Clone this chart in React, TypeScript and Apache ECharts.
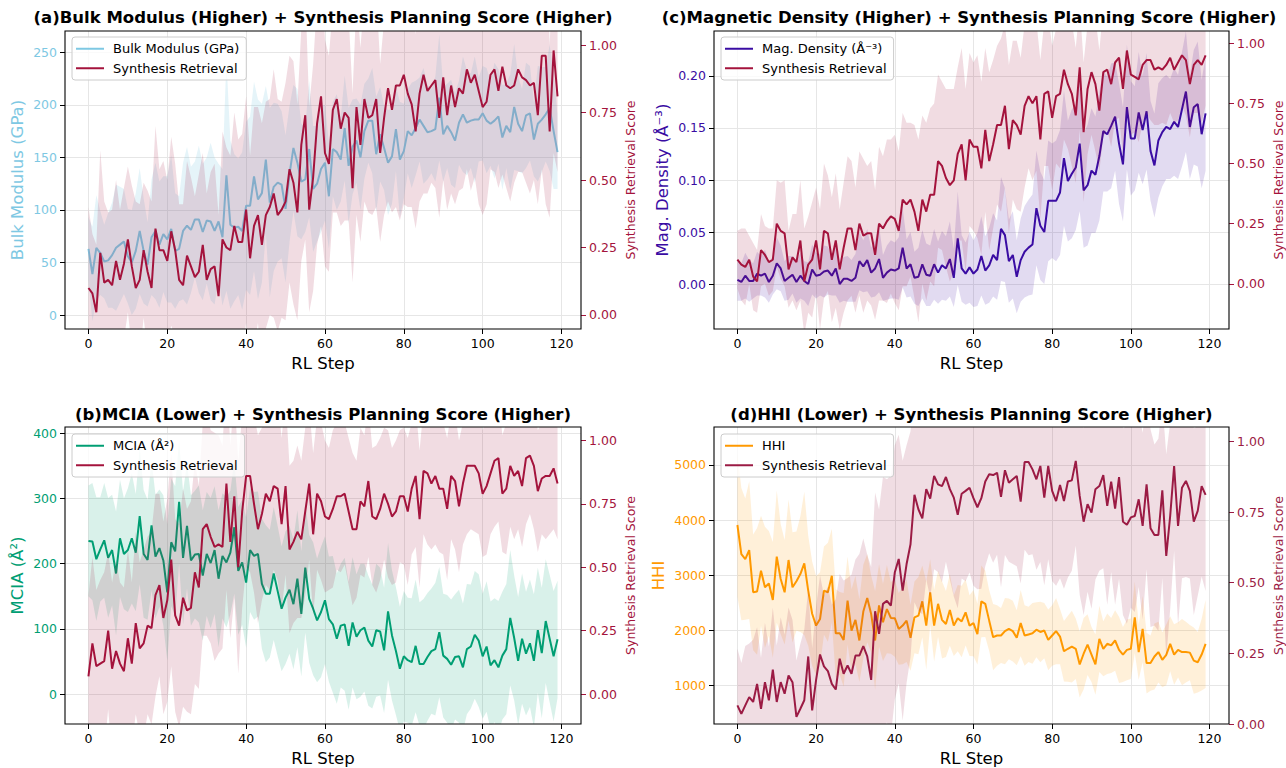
import React, { useEffect, useRef } from 'react';
import * as echarts from 'echarts';

const FONT = "'DejaVu Sans', sans-serif";

// RL steps 0..119
const steps = [...Array(120).keys()];
const xTicks = [0, 20, 40, 60, 80, 100, 120];
const scoreTicks = [0, 0.25, 0.5, 0.75, 1.0];
const bulkTicks = [0, 50, 100, 150, 200, 250];
const mciaTicks = [0, 100, 200, 300, 400];
const magTicks = [0, 0.05, 0.1, 0.15, 0.2];
const hhiTicks = [1000, 2000, 3000, 4000, 5000];

// (a) Bulk modulus
const bulk = [63, 39, 64, 59, 51, 52, 57, 64, 67, 70,
  56, 50, 61, 80, 61, 48, 74, 80, 67, 77,
  72, 82, 61, 63, 80, 85, 81, 91, 91, 79,
  90, 89, 80, 89, 74, 133, 86, 83, 84, 80,
  104, 104, 132, 110, 116, 148, 107, 122, 126, 124,
  101, 134, 159, 145, 127, 129, 158, 120, 125, 139,
  145, 113, 158, 155, 148, 178, 142, 160, 166, 150,
  175, 185, 185, 153, 172, 159, 145, 151, 177, 148,
  156, 175, 171, 178, 186, 180, 174, 175, 177, 207,
  172, 180, 174, 166, 183, 191, 183, 185, 186, 186,
  192, 185, 182, 185, 189, 169, 180, 174, 198, 182,
  175, 190, 192, 167, 182, 186, 191, 197, 175, 155];
const bulkSpread = [30, 45, 50, 40, 35, 45, 50, 60, 55, 50,
  45, 50, 55, 60, 50, 40, 55, 65, 60, 55,
  60, 70, 55, 50, 65, 75, 60, 55, 70, 65,
  60, 75, 70, 55, 65, 110, 80, 70, 65, 75,
  80, 85, 90, 95, 85, 70, 90, 80, 75, 70,
  70, 65, 60, 70, 55, 50, 65, 60, 55, 60,
  55, 50, 45, 55, 40, 50, 55, 45, 40, 50,
  45, 40, 50, 55, 45, 40, 50, 45, 40, 55,
  45, 40, 50, 45, 40, 55, 45, 40, 50, 60,
  45, 40, 50, 45, 40, 55, 50, 45, 60, 40,
  45, 50, 40, 55, 45, 50, 40, 55, 60, 45,
  40, 50, 45, 35, 55, 50, 45, 60, 55, 35];
const bulkSyn = [0.10, 0.08, 0.01, 0.23, 0.12, 0.13, 0.11, 0.20, 0.13, 0.19,
  0.28, 0.18, 0.10, 0.13, 0.24, 0.16, 0.10, 0.32, 0.24, 0.24,
  0.20, 0.31, 0.24, 0.13, 0.11, 0.22, 0.18, 0.14, 0.16, 0.26,
  0.13, 0.17, 0.18, 0.07, 0.28, 0.25, 0.24, 0.33, 0.27, 0.27,
  0.39, 0.21, 0.33, 0.37, 0.26, 0.37, 0.40, 0.45, 0.37, 0.39,
  0.42, 0.54, 0.49, 0.38, 0.63, 0.74, 0.39, 0.51, 0.71, 0.81,
  0.60, 0.56, 0.76, 0.80, 0.69, 0.75, 0.73, 0.47, 0.77, 0.63,
  0.80, 0.73, 0.74, 0.80, 0.60, 0.73, 0.84, 0.76, 0.85, 0.85,
  0.89, 0.82, 0.78, 0.68, 0.82, 0.89, 0.83, 0.85, 0.87, 0.73,
  0.88, 0.74, 0.85, 0.77, 0.84, 0.82, 0.91, 0.86, 0.89, 0.83,
  0.77, 0.79, 0.89, 0.91, 0.83, 0.92, 0.85, 0.84, 0.85, 0.91,
  0.88, 0.87, 0.85, 0.86, 0.74, 0.96, 0.96, 0.68, 0.98, 0.81];
const bulkSynSpread = [0.30, 0.22, 0.25, 0.38, 0.30, 0.25, 0.28, 0.30, 0.26, 0.28,
  0.27, 0.30, 0.32, 0.28, 0.25, 0.30, 0.32, 0.38, 0.30, 0.33,
  0.30, 0.35, 0.32, 0.28, 0.30, 0.35, 0.33, 0.30, 0.36, 0.34,
  0.32, 0.36, 0.38, 0.30, 0.40, 0.37, 0.35, 0.42, 0.38, 0.40,
  0.42, 0.38, 0.44, 0.40, 0.45, 0.42, 0.40, 0.46, 0.43, 0.40,
  0.44, 0.42, 0.45, 0.40, 0.43, 0.46, 0.38, 0.42, 0.45, 0.48,
  0.42, 0.40, 0.38, 0.42, 0.36, 0.40, 0.38, 0.35, 0.40, 0.36,
  0.38, 0.35, 0.37, 0.40, 0.33, 0.36, 0.42, 0.38, 0.45, 0.50,
  0.48, 0.42, 0.38, 0.36, 0.40, 0.44, 0.38, 0.36, 0.40, 0.37,
  0.38, 0.35, 0.40, 0.36, 0.38, 0.35, 0.37, 0.40, 0.38, 0.42,
  0.40, 0.38, 0.35, 0.38, 0.36, 0.40, 0.38, 0.42, 0.36, 0.38,
  0.35, 0.38, 0.40, 0.36, 0.33, 0.42, 0.55, 0.32, 0.38, 0.28];

// (b) MCIA
const mcia = [235, 234, 207, 222, 236, 209, 221, 185, 239, 215,
  221, 239, 217, 273, 215, 206, 259, 211, 224, 205,
  156, 233, 219, 295, 209, 258, 205, 214, 215, 182,
  215, 201, 221, 177, 212, 202, 217, 256, 189, 202,
  171, 221, 212, 215, 169, 154, 154, 185, 158, 131,
  148, 160, 138, 177, 123, 194, 146, 131, 113, 126,
  144, 115, 107, 85, 105, 107, 74, 110, 88, 98,
  102, 82, 73, 98, 96, 67, 127, 90, 66, 39,
  58, 52, 49, 74, 46, 46, 57, 66, 69, 95,
  59, 54, 45, 57, 58, 41, 69, 73, 91, 82,
  58, 73, 44, 52, 41, 59, 69, 117, 86, 51,
  85, 62, 78, 51, 98, 63, 112, 85, 58, 84];
const mciaSpread = [85, 90, 95, 80, 88, 92, 85, 95, 90, 85,
  95, 100, 90, 105, 98, 92, 100, 95, 90, 100,
  105, 98, 100, 95, 102, 96, 100, 98, 105, 100,
  95, 100, 98, 105, 96, 100, 95, 102, 98, 96,
  100, 95, 98, 96, 100, 105, 98, 102, 100, 96,
  102, 98, 100, 105, 96, 100, 98, 102, 95, 100,
  98, 96, 105, 100, 95, 102, 98, 100, 96, 102,
  98, 100, 95, 102, 98, 96, 105, 100, 98, 95,
  100, 96, 98, 102, 95, 100, 98, 96, 102, 100,
  95, 98, 100, 96, 102, 98, 100, 95, 98, 102,
  96, 100, 98, 95, 102, 98, 100, 104, 96, 98,
  100, 95, 98, 102, 96, 100, 95, 98, 100, 90];
const mciaSyn = [0.07, 0.20, 0.11, 0.12, 0.13, 0.25, 0.10, 0.17, 0.12, 0.09,
  0.22, 0.12, 0.28, 0.18, 0.20, 0.27, 0.26, 0.39, 0.43, 0.30,
  0.37, 0.53, 0.31, 0.27, 0.38, 0.33, 0.34, 0.48, 0.42, 0.65,
  0.67, 0.62, 0.58, 0.59, 0.58, 0.83, 0.60, 0.78, 0.50, 0.72,
  0.86, 0.86, 0.75, 0.65, 0.71, 0.79, 0.76, 0.82, 0.81, 0.67,
  0.82, 0.57, 0.60, 0.64, 0.61, 0.72, 0.83, 0.63, 0.79, 0.76,
  0.70, 0.69, 0.73, 0.78, 0.78, 0.79, 0.72, 0.65, 0.65, 0.76,
  0.74, 0.84, 0.70, 0.69, 0.73, 0.79, 0.75, 0.70, 0.72, 0.78,
  0.78, 0.72, 0.81, 0.86, 0.69, 0.88, 0.87, 0.83, 0.86, 0.81,
  0.81, 0.73, 0.86, 0.84, 0.74, 0.83, 0.90, 0.90, 0.90, 0.87,
  0.79, 0.82, 0.87, 0.92, 0.93, 0.79, 0.81, 0.90, 0.86, 0.88,
  0.82, 0.93, 0.94, 0.90, 0.80, 0.85, 0.86, 0.86, 0.89, 0.83];
const mciaSynSpread = [0.32, 0.34, 0.30, 0.33, 0.35, 0.31, 0.34, 0.36, 0.32, 0.33,
  0.35, 0.32, 0.36, 0.34, 0.37, 0.35, 0.38, 0.40, 0.36, 0.38,
  0.40, 0.42, 0.38, 0.40, 0.43, 0.40, 0.42, 0.44, 0.40, 0.42,
  0.44, 0.42, 0.45, 0.43, 0.40, 0.42, 0.38, 0.40, 0.42, 0.38,
  0.36, 0.38, 0.35, 0.37, 0.34, 0.36, 0.35, 0.33, 0.36, 0.34,
  0.35, 0.33, 0.32, 0.34, 0.31, 0.33, 0.30, 0.32, 0.30, 0.31,
  0.30, 0.28, 0.31, 0.29, 0.30, 0.28, 0.29, 0.30, 0.27, 0.29,
  0.28, 0.30, 0.27, 0.29, 0.28, 0.26, 0.29, 0.27, 0.28, 0.26,
  0.27, 0.29, 0.26, 0.28, 0.27, 0.25, 0.28, 0.26, 0.27, 0.25,
  0.26, 0.28, 0.25, 0.27, 0.26, 0.24, 0.27, 0.25, 0.26, 0.24,
  0.25, 0.27, 0.24, 0.26, 0.25, 0.23, 0.26, 0.24, 0.25, 0.23,
  0.24, 0.26, 0.23, 0.25, 0.24, 0.22, 0.25, 0.23, 0.24, 0.22];

// (c) Magnetic density
const mag = [0.004, 0.002, 0.008, 0.003, 0.003, 0.010, 0.008, 0.010, 0.002, 0.008,
  0.020, 0.015, 0.003, 0.006, 0.009, 0.002, 0.008, 0.003, 0.000, 0.014,
  0.008, 0.009, 0.012, 0.013, 0.008, 0.015, 0.000, 0.005, 0.005, 0.003,
  0.006, 0.022, 0.017, 0.023, 0.011, 0.015, 0.024, 0.006, 0.011, 0.014,
  0.013, 0.015, 0.035, 0.015, 0.019, 0.006, 0.007, 0.019, 0.009, 0.008,
  0.019, 0.011, 0.018, 0.015, 0.024, 0.006, 0.044, 0.015, 0.010, 0.016,
  0.010, 0.014, 0.027, 0.013, 0.018, 0.028, 0.023, 0.053, 0.047, 0.022,
  0.028, 0.007, 0.023, 0.031, 0.035, 0.038, 0.073, 0.056, 0.050, 0.080,
  0.080, 0.080, 0.088, 0.121, 0.099, 0.106, 0.112, 0.135, 0.090, 0.095,
  0.109, 0.105, 0.123, 0.147, 0.144, 0.152, 0.161, 0.135, 0.115, 0.170,
  0.140, 0.140, 0.165, 0.148, 0.166, 0.128, 0.114, 0.138, 0.146, 0.151,
  0.149, 0.156, 0.151, 0.168, 0.185, 0.151, 0.170, 0.173, 0.144, 0.164];
const magSpread = [0.020, 0.018, 0.022, 0.020, 0.017, 0.021, 0.019, 0.023, 0.020, 0.018,
  0.025, 0.022, 0.019, 0.021, 0.018, 0.020, 0.022, 0.019, 0.021, 0.024,
  0.022, 0.020, 0.025, 0.023, 0.019, 0.026, 0.018, 0.021, 0.022, 0.020,
  0.023, 0.028, 0.025, 0.030, 0.024, 0.027, 0.032, 0.022, 0.026, 0.028,
  0.027, 0.030, 0.038, 0.028, 0.031, 0.025, 0.028, 0.033, 0.030, 0.029,
  0.034, 0.030, 0.033, 0.031, 0.036, 0.028, 0.045, 0.032, 0.030, 0.034,
  0.032, 0.035, 0.038, 0.033, 0.036, 0.040, 0.038, 0.050, 0.045, 0.040,
  0.042, 0.035, 0.040, 0.044, 0.046, 0.048, 0.055, 0.052, 0.050, 0.058,
  0.055, 0.058, 0.060, 0.065, 0.058, 0.062, 0.060, 0.065, 0.055, 0.058,
  0.060, 0.056, 0.062, 0.058, 0.055, 0.060, 0.052, 0.058, 0.055, 0.060,
  0.055, 0.050, 0.058, 0.052, 0.056, 0.048, 0.050, 0.055, 0.052, 0.050,
  0.048, 0.052, 0.050, 0.055, 0.058, 0.050, 0.055, 0.060, 0.052, 0.055];
const magSyn = [0.10, 0.08, 0.07, 0.10, 0.03, 0.01, 0.14, 0.12, 0.09, 0.10,
  0.25, 0.22, 0.21, 0.06, 0.11, 0.09, 0.18, 0.01, 0.08, 0.10,
  0.18, 0.06, 0.22, 0.21, 0.10, 0.18, 0.06, 0.15, 0.23, 0.23,
  0.14, 0.25, 0.20, 0.21, 0.21, 0.12, 0.25, 0.23, 0.26, 0.28,
  0.27, 0.22, 0.35, 0.33, 0.35, 0.30, 0.22, 0.35, 0.30, 0.37,
  0.37, 0.51, 0.49, 0.44, 0.41, 0.43, 0.54, 0.58, 0.43, 0.60,
  0.57, 0.57, 0.48, 0.64, 0.51, 0.58, 0.66, 0.66, 0.74, 0.56,
  0.68, 0.66, 0.62, 0.74, 0.78, 0.75, 0.78, 0.60, 0.79, 0.80,
  0.69, 0.78, 0.79, 0.89, 0.83, 0.79, 0.70, 0.90, 0.63, 0.81,
  0.88, 0.83, 0.72, 0.88, 0.89, 0.83, 0.92, 0.94, 0.81, 0.97,
  0.87, 0.86, 0.85, 0.91, 0.93, 0.93, 0.89, 0.90, 0.89, 0.91,
  0.94, 0.89, 0.92, 0.95, 0.93, 0.83, 0.91, 0.93, 0.91, 0.95];
const magSynSpread = [0.12, 0.15, 0.16, 0.10, 0.14, 0.13, 0.15, 0.12, 0.14, 0.13,
  0.18, 0.20, 0.22, 0.16, 0.18, 0.20, 0.25, 0.22, 0.20, 0.24,
  0.22, 0.25, 0.28, 0.24, 0.26, 0.28, 0.25, 0.27, 0.30, 0.28,
  0.26, 0.30, 0.32, 0.28, 0.30, 0.27, 0.32, 0.30, 0.34, 0.32,
  0.35, 0.33, 0.36, 0.34, 0.32, 0.36, 0.38, 0.35, 0.37, 0.36,
  0.38, 0.36, 0.35, 0.37, 0.40, 0.38, 0.36, 0.40, 0.38, 0.36,
  0.35, 0.38, 0.36, 0.34, 0.37, 0.35, 0.33, 0.36, 0.34, 0.35,
  0.33, 0.35, 0.32, 0.34, 0.30, 0.32, 0.31, 0.33, 0.30, 0.31,
  0.30, 0.28, 0.31, 0.29, 0.27, 0.30, 0.28, 0.26, 0.29, 0.27,
  0.26, 0.28, 0.25, 0.27, 0.25, 0.26, 0.24, 0.25, 0.27, 0.24,
  0.25, 0.23, 0.26, 0.24, 0.22, 0.25, 0.23, 0.24, 0.22, 0.25,
  0.23, 0.22, 0.24, 0.21, 0.23, 0.22, 0.20, 0.22, 0.24, 0.21];

// (d) HHI
const hhi = [3910, 3380, 3290, 3455, 2690, 2705, 3080, 2780, 2850, 2550,
  3335, 2930, 2690, 3275, 2780, 2890, 3020, 3215, 2720, 2300,
  2085, 2205, 2720, 2690, 2990, 1945, 1945, 1825, 2540, 1995,
  2190, 1815, 2340, 2585, 2295, 1815, 2450, 2145, 2385, 2225,
  2220, 2025, 2085, 2175, 1865, 2235, 2265, 2525, 2085, 2690,
  2085, 2480, 2190, 2115, 2370, 2085, 2220, 2160, 2325, 2085,
  2130, 1930, 2525, 2480, 2175, 1875, 1905, 1905, 1985, 2025,
  1985, 1865, 2130, 1905, 1925, 1945, 2010, 1970, 1995, 1825,
  1905, 1985, 1885, 1620, 1665, 1705, 1665, 1380, 1575, 1740,
  1560, 1380, 1845, 1665, 1755, 1725, 1815, 1645, 1560, 1645,
  1665, 2235, 1605, 2025, 1405, 1405, 1525, 1605, 1465, 1555,
  1755, 1560, 1645, 1605, 1605, 1595, 1450, 1420, 1560, 1755];
const hhiSpread = [1300, 1200, 1100, 1250, 1050, 1150, 1000, 1100, 950, 1050,
  1200, 1000, 950, 1100, 1000, 900, 1050, 1300, 1000, 950,
  900, 850, 800, 900, 850, 800, 750, 850, 800, 750,
  800, 750, 850, 800, 700, 900, 750, 700, 800, 650,
  700, 650, 700, 750, 600, 650, 700, 650, 800, 600,
  650, 600, 700, 600, 650, 550, 600, 650, 600, 550,
  600, 550, 650, 600, 550, 600, 550, 500, 600, 550,
  550, 500, 600, 550, 500, 550, 500, 550, 500, 550,
  550, 600, 500, 550, 600, 650, 550, 600, 650, 550,
  500, 550, 600, 500, 550, 500, 550, 600, 500, 550,
  550, 650, 500, 600, 550, 500, 600, 550, 500, 550,
  500, 550, 500, 600, 550, 500, 600, 550, 650, 800];
const hhiSyn = [0.066, 0.036, 0.066, 0.095, 0.078, 0.142, 0.054, 0.148, 0.084, 0.192,
  0.078, 0.148, 0.107, 0.172, 0.148, 0.025, 0.054, 0.084, 0.239, 0.048,
  0.156, 0.246, 0.204, 0.187, 0.142, 0.122, 0.231, 0.178, 0.207, 0.178,
  0.242, 0.242, 0.276, 0.239, 0.156, 0.399, 0.319, 0.425, 0.436, 0.419,
  0.536, 0.584, 0.472, 0.566, 0.636, 0.811, 0.760, 0.728, 0.831, 0.798,
  0.878, 0.848, 0.842, 0.874, 0.831, 0.801, 0.740, 0.815, 0.825, 0.836,
  0.799, 0.767, 0.799, 0.858, 0.884, 0.881, 0.889, 0.804, 0.898, 0.854,
  0.866, 0.878, 0.787, 0.927, 0.927, 0.901, 0.866, 0.913, 0.801, 0.913,
  0.825, 0.789, 0.846, 0.789, 0.858, 0.862, 0.931, 0.807, 0.716, 0.778,
  0.748, 0.831, 0.842, 0.881, 0.772, 0.858, 0.762, 0.874, 0.716, 0.705,
  0.731, 0.736, 0.795, 0.701, 0.848, 0.693, 0.669, 0.669, 0.827, 0.595,
  0.736, 0.913, 0.701, 0.836, 0.860, 0.825, 0.716, 0.754, 0.842, 0.811];
const hhiSynSpread = [0.20, 0.18, 0.21, 0.19, 0.22, 0.20, 0.18, 0.21, 0.19, 0.22,
  0.20, 0.23, 0.21, 0.24, 0.22, 0.20, 0.23, 0.25, 0.24, 0.22,
  0.26, 0.28, 0.25, 0.30, 0.28, 0.32, 0.30, 0.33, 0.31, 0.35,
  0.34, 0.36, 0.38, 0.36, 0.40, 0.42, 0.44, 0.45, 0.43, 0.46,
  0.45, 0.44, 0.46, 0.42, 0.40, 0.38, 0.36, 0.34, 0.32, 0.35,
  0.33, 0.31, 0.34, 0.30, 0.32, 0.35, 0.33, 0.30, 0.32, 0.30,
  0.31, 0.29, 0.32, 0.30, 0.28, 0.31, 0.29, 0.32, 0.30, 0.28,
  0.30, 0.32, 0.29, 0.31, 0.33, 0.30, 0.32, 0.34, 0.31, 0.33,
  0.32, 0.30, 0.33, 0.31, 0.34, 0.32, 0.30, 0.35, 0.33, 0.31,
  0.34, 0.32, 0.30, 0.33, 0.35, 0.32, 0.34, 0.36, 0.33, 0.35,
  0.32, 0.34, 0.31, 0.33, 0.30, 0.35, 0.32, 0.34, 0.31, 0.36,
  0.33, 0.30, 0.35, 0.32, 0.34, 0.31, 0.33, 0.30, 0.32, 0.34];

const C_BULK = '#7EC8E3';
const C_MCIA = '#009E73';
const C_MAG = '#3A0CA3';
const C_HHI = '#FF9900';
const C_SYN = '#A4133C';
const C_SYN_D = '#9B1B44';

const pairs = (ys: number[]) => ys.map((v, i) => [steps[i], v]);

function rgba(hex: string, a: number) {
  const n = parseInt(hex.slice(1), 16);
  return `rgba(${(n >> 16) & 255},${(n >> 8) & 255},${n & 255},${a})`;
}

function band(xi: number, yi: number, center: number[], spread: number[], color: string, alpha: number, z: number) {
  return {
    type: 'custom', xAxisIndex: xi, yAxisIndex: yi, silent: true, clip: true, z,
    data: pairs(center),
    encode: { x: 0, y: 1 },
    renderItem: (params: any, api: any) => {
      if (params.dataIndex !== 0) return null;
      const up = center.map((v, i) => api.coord([steps[i], v + spread[i]]));
      const lo = center.map((v, i) => api.coord([steps[i], v - spread[i]])).reverse();
      return {
        type: 'polygon',
        shape: { points: up.concat(lo) },
        style: { fill: rgba(color, alpha), stroke: 'none' },
      };
    },
  };
}

function line(name: string, xi: number, yi: number, ys: number[], color: string, z: number) {
  return {
    type: 'line', name, xAxisIndex: xi, yAxisIndex: yi, data: pairs(ys), z,
    symbol: 'none', lineStyle: { width: 2, color }, itemStyle: { color },
  };
}

const GRIDS = [
  { left: 65, top: 31, width: 516, height: 298 },   // a
  { left: 65, top: 427, width: 516, height: 298 },  // b
  { left: 714, top: 31, width: 515, height: 298 },  // c
  { left: 714, top: 427, width: 515, height: 298 }, // d
];

function xAxis(gi: number) {
  return {
    type: 'value', gridIndex: gi, min: -5.95, max: 124.95, splitNumber: 6,
    axisLine: { show: false, onZero: false },
    axisTick: { show: true, length: 5, lineStyle: { color: '#000' }, customValues: xTicks },
    axisLabel: { color: '#000', fontSize: 12.5, fontFamily: FONT, margin: 8, customValues: xTicks },
    splitLine: { show: true, lineStyle: { color: '#e6e6e6', width: 1 } },
    name: 'RL Step', nameLocation: 'middle', nameGap: 26,
    nameTextStyle: { color: '#000', fontSize: 16.5, fontFamily: FONT },
  };
}

function leftAxis(gi: number, min: number, max: number, split: number, ticks: number[], name: string, color: string, gap: number, fmt: (v: number) => string) {
  return {
    type: 'value', gridIndex: gi, position: 'left', min, max, splitNumber: split,
    axisLine: { show: false, onZero: false },
    axisTick: { show: true, length: 5, lineStyle: { color: '#000' }, customValues: ticks },
    axisLabel: { color, fontSize: 12.5, fontFamily: FONT, margin: 8, customValues: ticks, formatter: fmt },
    splitLine: { show: true, lineStyle: { color: '#e6e6e6', width: 1 } },
    name, nameLocation: 'middle', nameRotate: 90, nameGap: gap,
    nameTextStyle: { color, fontSize: 16.5, fontFamily: FONT },
  };
}

function rightAxis(gi: number, min: number, max: number, color: string) {
  return {
    type: 'value', gridIndex: gi, position: 'right', min, max, splitNumber: 4,
    axisLine: { show: false, onZero: false },
    axisTick: { show: true, length: 5, lineStyle: { color }, customValues: scoreTicks },
    axisLabel: { color, fontSize: 12.5, fontFamily: FONT, margin: 8, customValues: scoreTicks, formatter: (v: number) => v.toFixed(2) },
    splitLine: { show: false },
    name: 'Synthesis Retrieval Score', nameLocation: 'middle', nameRotate: 90, nameGap: 43,
    nameTextStyle: { color, fontSize: 12.5, fontFamily: FONT },
  };
}

function legend(left: number, top: number, first: string, firstColor: string, synColor: string) {
  return {
    left, top, orient: 'vertical', icon: 'rect', itemWidth: 28, itemHeight: 2, itemGap: 4,
    padding: [4, 7, 4, 4], backgroundColor: 'rgba(255,255,255,0.8)', borderColor: '#cccccc',
    borderWidth: 1, borderRadius: 3, selectedMode: false, z: 20,
    textStyle: { color: '#000', fontSize: 13, fontFamily: FONT, padding: [0, 0, 0, 4], lineHeight: 15.5 },
    data: [
      { name: first, itemStyle: { color: firstColor } },
      { name: 'Synthesis Retrieval', itemStyle: { color: synColor } },
    ],
  };
}

const TITLES = [
  { text: '(a)Bulk Modulus (Higher) + Synthesis Planning Score (Higher)', x: 323, y: 17.5 },
  { text: '(b)MCIA (Lower) + Synthesis Planning Score (Higher)', x: 323, y: 414 },
  { text: '(c)Magnetic Density (Higher) + Synthesis Planning Score (Higher)', x: 969, y: 17.5 },
  { text: '(d)HHI (Lower) + Synthesis Planning Score (Higher)', x: 971.5, y: 414 },
];

export default function App() {
  const ref = useRef<HTMLDivElement>(null);
  useEffect(() => {
    if (!ref.current) return;
    const chart = echarts.init(ref.current, undefined, { renderer: 'svg' });
    const int0 = (v: number) => String(Math.round(v));
    const fix2 = (v: number) => v.toFixed(2);
    const option: any = {
      animation: false,
      backgroundColor: '#ffffff',
      textStyle: { fontFamily: FONT },
      grid: GRIDS.map((g) => ({ ...g, show: true, borderColor: '#000', borderWidth: 1.1, backgroundColor: 'transparent', z: 15 })),
      xAxis: [xAxis(0), xAxis(1), xAxis(2), xAxis(3)],
      yAxis: [
        leftAxis(0, -13.3, 270.3, 6, bulkTicks, 'Bulk Modulus (GPa)', C_BULK, 39, int0),
        rightAxis(0, -0.052, 1.052, C_SYN),
        leftAxis(1, -45.9, 409.8, 5, mciaTicks, 'MCIA (Å²)', C_MCIA, 39, int0),
        rightAxis(1, -0.118, 1.053, C_SYN),
        leftAxis(2, -0.0432, 0.2432, 6, magTicks, 'Mag. Density (Å⁻³)', C_MAG, 43, fix2),
        rightAxis(2, -0.188, 1.051, C_SYN),
        leftAxis(3, 300, 5688, 5, hhiTicks, 'HHI', C_HHI, 47, int0),
        rightAxis(3, 0, 1.051, C_SYN_D),
      ],
      legend: [
        legend(72, 37, 'Bulk Modulus (GPa)', C_BULK, C_SYN),
        legend(72, 434, 'MCIA (Å²)', C_MCIA, C_SYN),
        legend(721, 37, 'Mag. Density (Å⁻³)', C_MAG, C_SYN),
        legend(721, 434, 'HHI', C_HHI, C_SYN_D),
      ],
      graphic: TITLES.map((t) => ({
        type: 'text', x: t.x, y: t.y,
        style: { text: t.text, font: `bold 16.5px ${FONT}`, fill: '#000', align: 'center', verticalAlign: 'middle' },
      })),
      series: [
        band(0, 0, bulk, bulkSpread, C_BULK, 0.2, 2),
        line('Bulk Modulus (GPa)', 0, 0, bulk, C_BULK, 3),
        band(0, 1, bulkSyn, bulkSynSpread, C_SYN, 0.15, 4),
        line('Synthesis Retrieval', 0, 1, bulkSyn, C_SYN, 5),

        band(1, 2, mcia, mciaSpread, C_MCIA, 0.15, 2),
        line('MCIA (Å²)', 1, 2, mcia, C_MCIA, 3),
        band(1, 3, mciaSyn, mciaSynSpread, C_SYN, 0.15, 4),
        line('Synthesis Retrieval', 1, 3, mciaSyn, C_SYN, 5),

        band(2, 4, mag, magSpread, C_MAG, 0.15, 2),
        line('Mag. Density (Å⁻³)', 2, 4, mag, C_MAG, 3),
        band(2, 5, magSyn, magSynSpread, C_SYN, 0.15, 4),
        line('Synthesis Retrieval', 2, 5, magSyn, C_SYN, 5),

        band(3, 6, hhi, hhiSpread, C_HHI, 0.15, 2),
        line('HHI', 3, 6, hhi, C_HHI, 3),
        band(3, 7, hhiSyn, hhiSynSpread, C_SYN_D, 0.15, 4),
        line('Synthesis Retrieval', 3, 7, hhiSyn, C_SYN_D, 5),
      ],
    };
    chart.setOption(option);
    return () => chart.dispose();
  }, []);
  return <div ref={ref} style={{ position: 'fixed', left: 0, top: 0, width: 1286, height: 768, background: '#fff' }} />;
}
